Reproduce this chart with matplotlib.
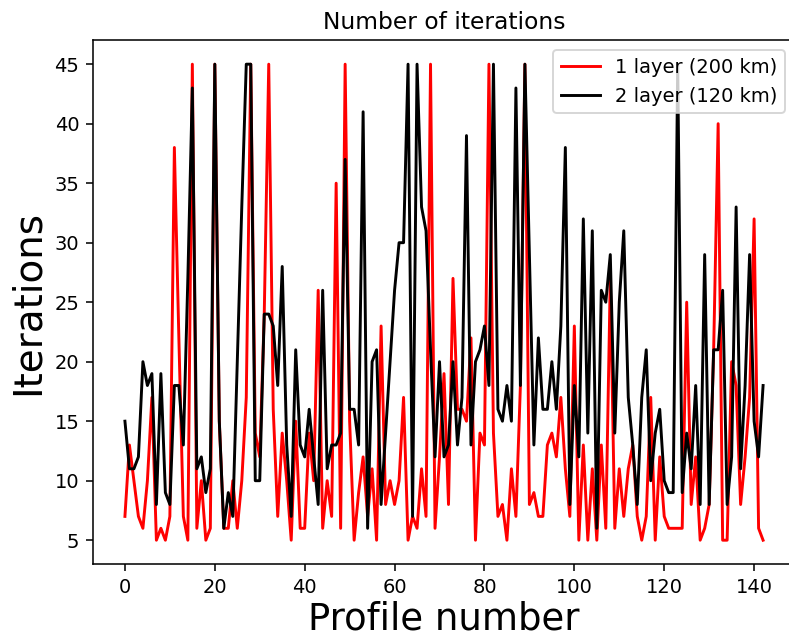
import matplotlib
matplotlib.use("Agg")
import matplotlib.pyplot as plt
import numpy as np

one_layer = [7, 13, 10, 7, 6, 10, 17, 5, 6, 5,
             7, 38, 22, 7, 5, 45, 6, 10, 5, 6,
             45, 15, 6, 6, 10, 6, 10, 17, 45, 14,
             12, 24, 45, 16, 7, 14, 10, 5, 15, 6,
             6, 14, 10, 26, 6, 10, 7, 35, 6, 45,
             15, 5, 9, 12, 7, 11, 5, 23, 8, 10,
             8, 10, 17, 5, 7, 6, 11, 7, 45, 6,
             12, 19, 8, 27, 16, 16, 15, 22, 5, 14,
             13, 45, 14, 7, 8, 5, 11, 7, 18, 45,
             8, 9, 7, 7, 13, 14, 12, 17, 11, 7,
             23, 5, 13, 5, 11, 5, 13, 6, 27, 6,
             11, 7, 11, 13, 7, 5, 7, 17, 5, 12,
             7, 6, 6, 6, 6, 25, 8, 12, 5, 6,
             8, 21, 40, 5, 5, 20, 18, 8, 12, 17,
             32, 6, 5]

two_layer = [15, 11, 11, 12, 20, 18, 19, 8, 19, 9,
             8, 18, 18, 13, 27, 43, 11, 12, 9, 11,
             45, 15, 6, 9, 7, 20, 33, 45, 45, 10,
             10, 24, 24, 23, 18, 28, 13, 7, 21, 13,
             12, 16, 12, 8, 26, 11, 13, 13, 14, 37,
             16, 16, 13, 41, 6, 20, 21, 8, 14, 20,
             26, 30, 30, 45, 7, 45, 33, 31, 21, 12,
             20, 12, 13, 20, 13, 17, 39, 13, 20, 21,
             23, 18, 45, 16, 15, 18, 15, 43, 18, 45,
             29, 13, 22, 16, 16, 20, 16, 23, 38, 8,
             18, 12, 32, 14, 31, 6, 26, 25, 29, 14,
             25, 31, 17, 13, 8, 17, 21, 10, 14, 16,
             10, 9, 9, 45, 9, 14, 11, 18, 8, 29,
             8, 21, 21, 26, 8, 12, 33, 11, 18, 29,
             15, 12, 18]

profiles = np.arange(len(one_layer))

fig = plt.figure(figsize=(789 / 140, 637 / 140), dpi=140)
ax = fig.add_axes([0.1179, 0.1146, 0.8897, 0.822])
ax.plot(profiles, one_layer, color="red", lw=1.5, label="1 layer (200 km)")
ax.plot(profiles, two_layer, color="black", lw=1.5, label="2 layer (120 km)")
ax.set_yticks([5, 10, 15, 20, 25, 30, 35, 40, 45])
ax.set_xticks([0, 20, 40, 60, 80, 100, 120, 140])
ax.set_title("Number of iterations")
ax.set_xlabel("Profile number", fontsize=19, labelpad=2)
ax.set_ylabel("Iterations", fontsize=20)
ax.legend(loc="upper right")
fig.savefig("out.png", dpi=140)
